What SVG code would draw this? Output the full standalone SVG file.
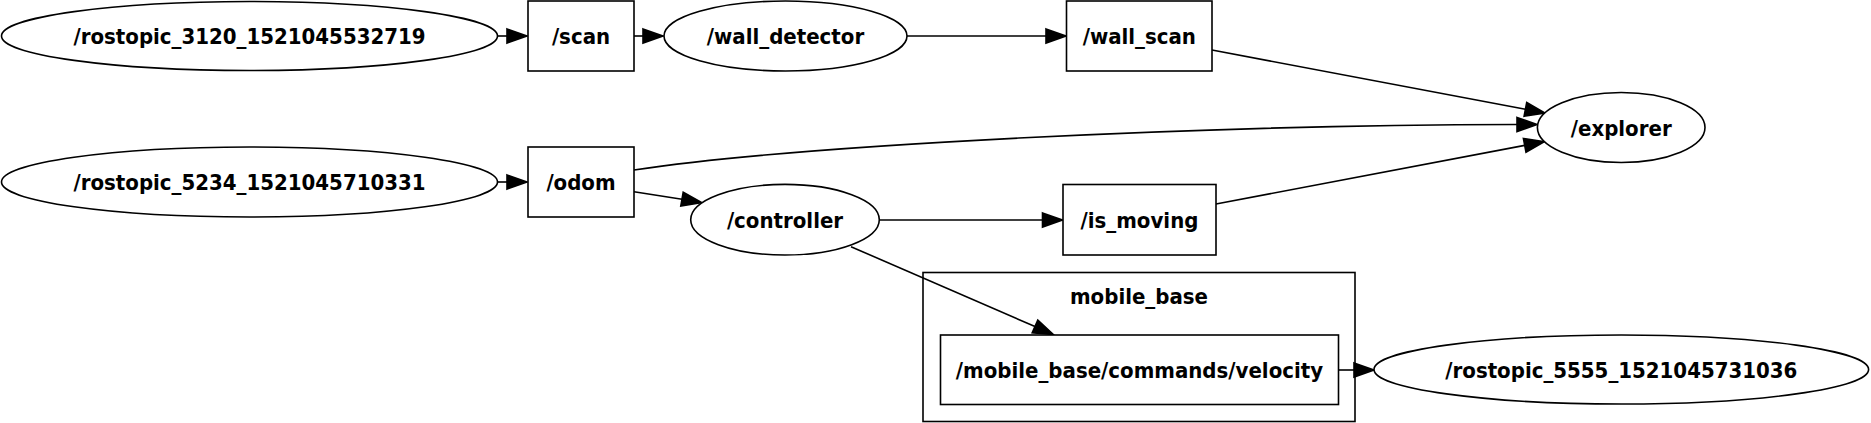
<svg xmlns="http://www.w3.org/2000/svg" width="1871" height="423" viewBox="0 0 1871 423">
<style>
.n ellipse,.n rect,.c rect{fill:#fff;stroke:#000;stroke-width:1.6}
.c rect{fill:none}
text{font-family:"DejaVu Sans Condensed","DejaVu Sans","Liberation Sans",sans-serif;font-stretch:condensed;font-weight:bold;font-size:22px;text-anchor:middle;fill:#000}
.e path{fill:none;stroke:#000;stroke-width:1.6}
.e polygon{fill:#000;stroke:#000;stroke-width:1.6}
</style>
<rect width="1871" height="423" fill="#fff"/>
<g id="cluster_mobile_base" class="c">
<rect x="923" y="272.5" width="432" height="149"/>
<text x="1139" y="303.5">mobile_base</text>
</g>
<g id="edges" class="e">
<path d="M498,36 L507,36"/><polygon points="507,29 527,36 507,43"/>
<path d="M634,36 L643,36"/><polygon points="643,29 663,36 643,43"/>
<path d="M907,36 L1046,36"/><polygon points="1046,29 1066,36 1046,43"/>
<path d="M1212,50 L1525.4,109.3"/><polygon points="1526.7,102.4 1545,113 1524.1,116.2"/>
<path d="M498,182 L507,182"/><polygon points="507,175 527,182 507,189"/>
<path d="M634,170 C800,145 1200,125 1517,124.5"/><polygon points="1517,117.5 1537,124.5 1517,131.5"/>
<path d="M634,191.7 L682,199.2"/><polygon points="683.2,192.3 701.7,202.7 680.8,206.1"/>
<path d="M880,220 L1042.5,220"/><polygon points="1042.5,213 1062.5,220 1042.5,227"/>
<path d="M1216,204 L1524.7,145.4"/><polygon points="1523.4,138.5 1544.3,141.7 1526,152.3"/>
<path d="M851,246.7 L1035,326.5"/><polygon points="1037.8,320.1 1053.3,334.5 1032.2,332.9"/>
<path d="M1338.5,370 L1354,370"/><polygon points="1354,363 1374,370 1354,377"/>
</g>
<g id="n_rostopic_3120" class="n"><ellipse cx="249.5" cy="36" rx="248" ry="34.5"/><text x="249.5" y="44">/rostopic_3120_1521045532719</text></g>
<g id="n_scan" class="n"><rect x="528" y="1" width="106" height="70"/><text x="581" y="44">/scan</text></g>
<g id="n_wall_detector" class="n"><ellipse cx="785.5" cy="36" rx="121.5" ry="35"/><text x="785.5" y="44">/wall_detector</text></g>
<g id="n_wall_scan" class="n"><rect x="1066.5" y="1" width="145.5" height="70"/><text x="1139.3" y="44">/wall_scan</text></g>
<g id="n_explorer" class="n"><ellipse cx="1621.2" cy="127.5" rx="83.8" ry="35"/><text x="1621.2" y="135.5">/explorer</text></g>
<g id="n_rostopic_5234" class="n"><ellipse cx="249.5" cy="182" rx="248" ry="35"/><text x="249.5" y="190">/rostopic_5234_1521045710331</text></g>
<g id="n_odom" class="n"><rect x="528" y="147" width="106" height="70"/><text x="581" y="190">/odom</text></g>
<g id="n_controller" class="n"><ellipse cx="785" cy="219.7" rx="94.3" ry="35.3"/><text x="785" y="227.5">/controller</text></g>
<g id="n_is_moving" class="n"><rect x="1063" y="184.5" width="153" height="70.5"/><text x="1139.5" y="227.5">/is_moving</text></g>
<g id="n_velocity" class="n"><rect x="940.5" y="335" width="398" height="69.5"/><text x="1139.5" y="378">/mobile_base/commands/velocity</text></g>
<g id="n_rostopic_5555" class="n"><ellipse cx="1621.3" cy="369.5" rx="247.3" ry="34.5"/><text x="1621.3" y="377.5">/rostopic_5555_1521045731036</text></g>
</svg>
